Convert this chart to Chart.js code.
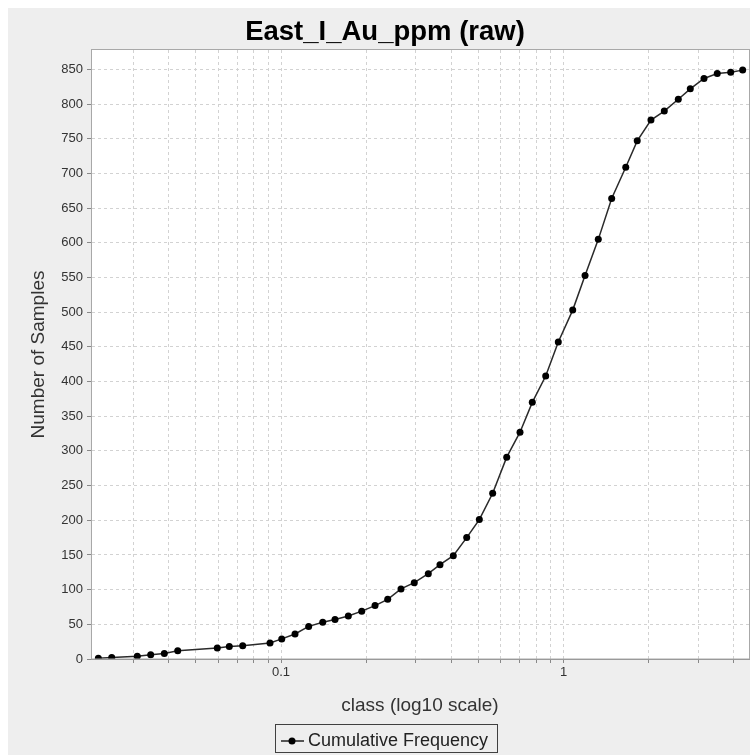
<!DOCTYPE html>
<html>
<head>
<meta charset="utf-8">
<title>East_I_Au_ppm (raw)</title>
<script src="https://cdn.jsdelivr.net/npm/chart.js@4/dist/chart.umd.min.js"></script>
<style>
  html, body { margin: 0; padding: 0; background: #ffffff; }
  canvas { display: block; }
</style>
</head>
<body>
<canvas id="chart" width="750" height="755"></canvas>
<script>
// Class upper bounds (ppm) and cumulative sample counts
const classValues = [
  0.02256, 0.02516, 0.03099, 0.03457, 0.03863, 0.04309, 0.05948, 0.06561,
  0.07318, 0.09142, 0.1006, 0.1121, 0.1253, 0.1405, 0.1553, 0.1731,
  0.1931, 0.2152, 0.2386, 0.2659, 0.2963, 0.3322, 0.3654, 0.4073,
  0.4543, 0.5035, 0.5614, 0.6295, 0.7015, 0.7754, 0.8650, 0.9585,
  1.078, 1.192, 1.328, 1.481, 1.661, 1.824, 2.040, 2.274,
  2.549, 2.811, 3.143, 3.502, 3.907, 4.308
];
const cumulativeCounts = [
  1, 2, 4, 6, 8, 12, 16, 18,
  19, 23, 29, 36, 47, 53, 57, 62,
  69, 77, 86, 101, 110, 123, 136, 149,
  175, 201, 239, 291, 327, 370, 408, 457,
  503, 553, 605, 664, 709, 747, 777, 790,
  807, 822, 837, 844, 846, 849
];

// Axis ticks
const yTickValues = [0, 50, 100, 150, 200, 250, 300, 350, 400, 450,
                     500, 550, 600, 650, 700, 750, 800, 850];
const xGridValues = [0.03, 0.04, 0.05, 0.06, 0.07, 0.08, 0.09,
                     0.1, 0.2, 0.3, 0.4, 0.5, 0.6, 0.7, 0.8, 0.9,
                     1, 2, 3, 4];
const xLabelValues = [0.1, 1];

const chartTitle = 'East_I_Au_ppm (raw)';
const seriesName = 'Cumulative Frequency';
const xAxisTitle = 'class (log10 scale)';
const yAxisTitle = 'Number of Samples';

const FONT = "'Liberation Sans', Arial, sans-serif";
const PANEL = '#eeeeee';

const points = classValues.map((c, i) => ({ x: c, y: cumulativeCounts[i] }));

// Panel background, plot background, title, plot outline and framed legend
const frame = {
  id: 'frame',
  beforeDraw(chart) {
    const { ctx, chartArea: a } = chart;
    ctx.save();
    ctx.fillStyle = '#ffffff';
    ctx.fillRect(0, 0, chart.width, chart.height);
    ctx.fillStyle = PANEL;
    ctx.fillRect(8, 8, chart.width - 8, chart.height - 8);
    ctx.fillStyle = '#ffffff';
    ctx.fillRect(a.left, a.top, a.right - a.left, a.bottom - a.top);
    ctx.restore();
  },
  afterDraw(chart) {
    const { ctx, chartArea: a } = chart;
    ctx.save();
    // plot outline
    ctx.strokeStyle = '#a8a8a8';
    ctx.lineWidth = 1;
    ctx.strokeRect(a.left + 0.5, a.top - 0.5, a.right - a.left, a.bottom - a.top + 0.5);

    // title
    ctx.fillStyle = '#000000';
    ctx.font = 'bold 27.5px ' + FONT;
    ctx.textAlign = 'center';
    ctx.textBaseline = 'alphabetic';
    ctx.fillText(chartTitle, 385, 40);

    // legend
    const lx = 275, ly = 724, lw = 222, lh = 28;
    ctx.strokeStyle = '#404040';
    ctx.lineWidth = 1;
    ctx.strokeRect(lx + 0.5, ly + 0.5, lw, lh);
    const cy = ly + 17;
    ctx.strokeStyle = '#222222';
    ctx.lineWidth = 1.5;
    ctx.beginPath();
    ctx.moveTo(lx + 6, cy);
    ctx.lineTo(lx + 29, cy);
    ctx.stroke();
    ctx.fillStyle = '#000000';
    ctx.beginPath();
    ctx.arc(lx + 17, cy, 3.5, 0, Math.PI * 2);
    ctx.fill();
    ctx.fillStyle = '#222222';
    ctx.font = '18px ' + FONT;
    ctx.textAlign = 'left';
    ctx.textBaseline = 'middle';
    ctx.fillText(seriesName, lx + 33, cy);
    ctx.restore();
  }
};

new Chart(document.getElementById('chart'), {
  type: 'line',
  data: {
    datasets: [{
      label: seriesName,
      data: points,
      borderColor: '#2a2a2a',
      borderWidth: 1.5,
      pointRadius: 3.5,
      pointHoverRadius: 3.5,
      pointBackgroundColor: '#000000',
      pointBorderColor: '#000000',
      pointBorderWidth: 0,
      tension: 0,
      fill: false
    }]
  },
  options: {
    responsive: false,
    animation: false,
    events: [],
    layout: { autoPadding: false, padding: { top: 50, right: 1, left: 0, bottom: 0 } },
    plugins: {
      legend: { display: false },
      title: { display: false },
      tooltip: { enabled: false }
    },
    scales: {
      x: {
        type: 'logarithmic',
        min: 0.02125,
        max: 4.536,
        afterBuildTicks(scale) {
          scale.ticks = xGridValues.map(v => ({ value: v }));
        },
        afterFit(scale) {
          scale.height = 96;
          scale.paddingLeft = 0;
          scale.paddingRight = 0;
        },
        ticks: {
          autoSkip: false,
          maxRotation: 0,
          padding: 2,
          color: '#333333',
          font: { family: FONT, size: 13 },
          callback(value) {
            return xLabelValues.includes(value) ? String(value) : '';
          }
        },
        grid: {
          color: '#d2d2d2',
          lineWidth: 1,
          tickLength: 4,
          tickColor: '#888888',
          tickWidth: 1,
          tickBorderDash: []
        },
        border: { display: true, color: '#8a8a8a', width: 1, dash: [3, 3] },
        title: {
          display: true,
          text: xAxisTitle,
          color: '#333333',
          font: { family: FONT, size: 19 },
          padding: { top: 0, bottom: 38 }
        }
      },
      y: {
        type: 'linear',
        min: 0,
        max: 878,
        afterBuildTicks(scale) {
          scale.ticks = yTickValues.map(v => ({ value: v }));
        },
        afterFit(scale) { scale.width = 91; },
        ticks: {
          padding: 4,
          color: '#333333',
          font: { family: FONT, size: 13 }
        },
        grid: {
          color: '#d2d2d2',
          lineWidth: 1,
          tickLength: 4,
          tickColor: '#888888',
          tickWidth: 1,
          tickBorderDash: []
        },
        border: { display: true, color: '#8a8a8a', width: 1, dash: [3, 3] },
        title: {
          display: true,
          text: yAxisTitle,
          color: '#333333',
          font: { family: FONT, size: 19 },
          padding: { top: 27, bottom: 0 }
        }
      }
    }
  },
  plugins: [frame]
});
</script>
</body>
</html>
